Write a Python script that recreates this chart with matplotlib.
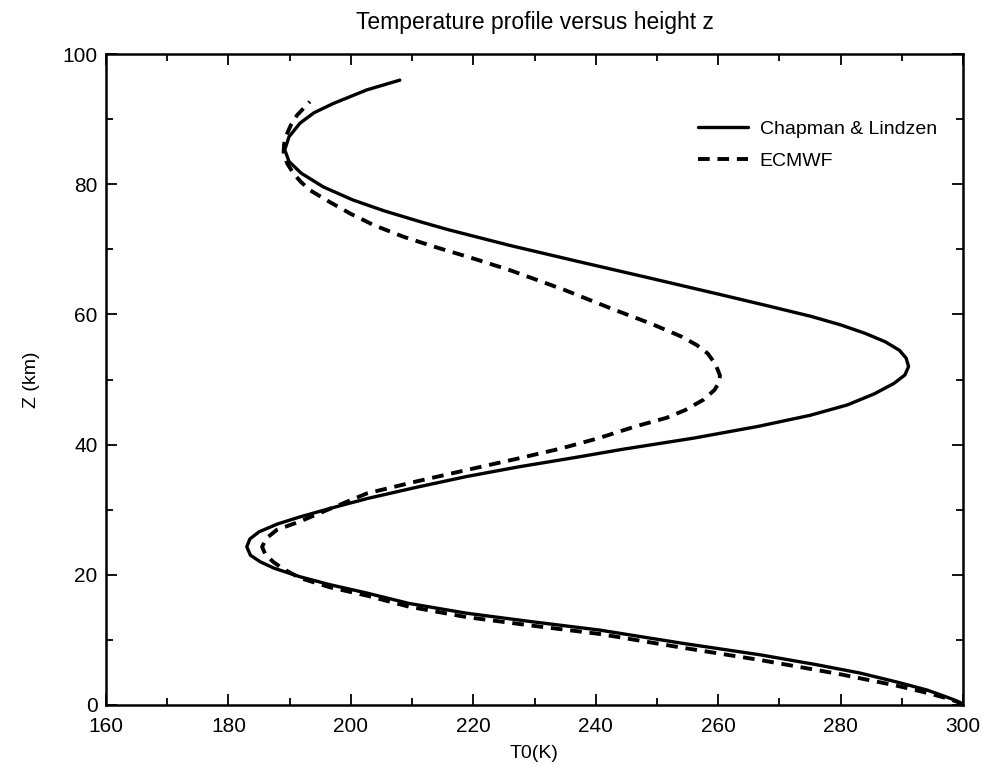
import matplotlib
matplotlib.use('Agg')
import matplotlib.pyplot as plt
from matplotlib.ticker import MultipleLocator

plt.rcParams['font.family'] = ['Liberation Sans', 'DejaVu Sans']

# Chapman & Lindzen profile: height (km) and temperature (K)
cl_z = [0, 0.4, 0.8, 1.5, 2.3, 3.5, 4.9, 6.2, 7.7, 9.5, 11.5, 12.8, 14.1,
        15.6, 17.2, 18.5, 19.7, 21.0, 22.0, 23.0, 24.3, 25.5, 26.6, 27.8,
        28.9, 30.3, 31.7, 33.4, 35.1, 36.6, 38.0, 39.3, 41.0, 42.8, 44.5,
        46.1, 47.8, 49.4, 50.7, 52.0, 53.3, 54.5, 55.8, 57.1, 58.4, 59.7,
        61.3, 63.0, 65.6, 68.1, 70.6, 73.0, 74.2, 75.9, 77.6, 79.6, 81.7,
        83.5, 85.3, 87.3, 89.4, 91.0, 92.4, 94.5, 96.0]
cl_t = [300, 299.5, 298.5, 296.5, 294.1, 289.3, 283.2, 276.0, 266.9, 254.0,
        240.7, 229.5, 218.9, 209.5, 202.6, 196.5, 191.7, 187.5, 185.2, 183.6,
        183.0, 183.5, 185.0, 188.0, 191.7, 197.0, 202.6, 210.5, 218.9, 227.5,
        236.5, 244.5, 256.0, 266.5, 275.0, 281.1, 285.5, 288.7, 290.5, 291.1,
        290.7, 289.6, 287.3, 284.0, 280.0, 275.2, 268.2, 260.6, 248.8, 237.3,
        226.0, 216.0, 211.5, 205.5, 200.3, 195.5, 191.9, 189.9, 189.2, 189.9,
        191.7, 194.0, 197.1, 202.6, 208.0]

# ECMWF profile
ec_z = [0, 0.5, 1.0, 2.0, 3.0, 4.8, 6.9, 8.9, 10.9, 12.2, 13.5, 15.1, 16.8,
        18.1, 19.5, 21.0, 22.0, 23.2, 24.3, 25.6, 26.9, 28.2, 30.3, 32.5,
        34.3, 36.1, 37.8, 39.4, 41.0, 42.8, 44.1, 45.3, 46.9, 48.4, 49.5,
        50.6, 52.3, 54.0, 55.3, 56.6, 58.6, 60.7, 63.8, 66.8, 68.6, 70.3,
        71.9, 73.7, 75.5, 77.3, 79.1, 80.4, 81.7, 83.2, 84.7, 86.2, 87.6,
        89.1, 90.6, 92.7]
ec_t = [300, 299.0, 297.5, 293.5, 289.0, 279.5, 266.9, 253.5, 240.7, 229.5,
        218.9, 209.5, 202.6, 196.5, 191.7, 188.8, 187.3, 186.0, 185.5, 186.2,
        187.9, 191.7, 197.0, 202.6, 210.5, 218.9, 227.0, 234.3, 240.5, 246.5,
        251.5, 254.6, 257.6, 259.4, 260.1, 260.3, 259.6, 258.3, 256.5, 254.0,
        249.0, 243.1, 234.8, 226.0, 220.0, 214.0, 208.7, 203.8, 199.9, 196.5,
        193.3, 191.8, 190.6, 189.6, 189.0, 189.1, 189.5, 190.2, 191.2, 193.3]

fig = plt.figure(figsize=(9.84, 7.73), dpi=100)
ax = fig.add_axes([0.1077, 0.088, 0.871, 0.842])

ax.plot(cl_t, cl_z, color='black', lw=2.4, solid_capstyle='round',
        solid_joinstyle='round', label='Chapman & Lindzen')
ax.plot(ec_t, ec_z, color='black', lw=2.8, linestyle=(0, (3, 2)),
        dash_joinstyle='round', label='ECMWF')

ax.set_xlim(160, 300)
ax.set_ylim(0, 100)
ax.xaxis.set_major_locator(MultipleLocator(20))
ax.xaxis.set_minor_locator(MultipleLocator(10))
ax.yaxis.set_major_locator(MultipleLocator(20))
ax.yaxis.set_minor_locator(MultipleLocator(10))
ax.tick_params(which='both', direction='in', top=True, right=True,
               labelsize=15, width=1.3)
ax.tick_params(which='major', length=8)
ax.tick_params(which='minor', length=5)
ax.tick_params(axis='x', which='major', pad=9)
ax.tick_params(axis='y', which='major', pad=6)
for sp in ax.spines.values():
    sp.set_linewidth(1.8)

ax.set_title('Temperature profile versus height z', fontsize=16.5, pad=18)
ax.set_xlabel('T0(K)', fontsize=14, labelpad=6)
ax.set_ylabel('Z (km)', fontsize=14, labelpad=16)

ax.legend(loc='upper right', bbox_to_anchor=(0.99, 0.925), frameon=False,
          fontsize=14, handlelength=2.6, handletextpad=0.6, labelspacing=0.75)

plt.savefig('out.png', dpi=100)
